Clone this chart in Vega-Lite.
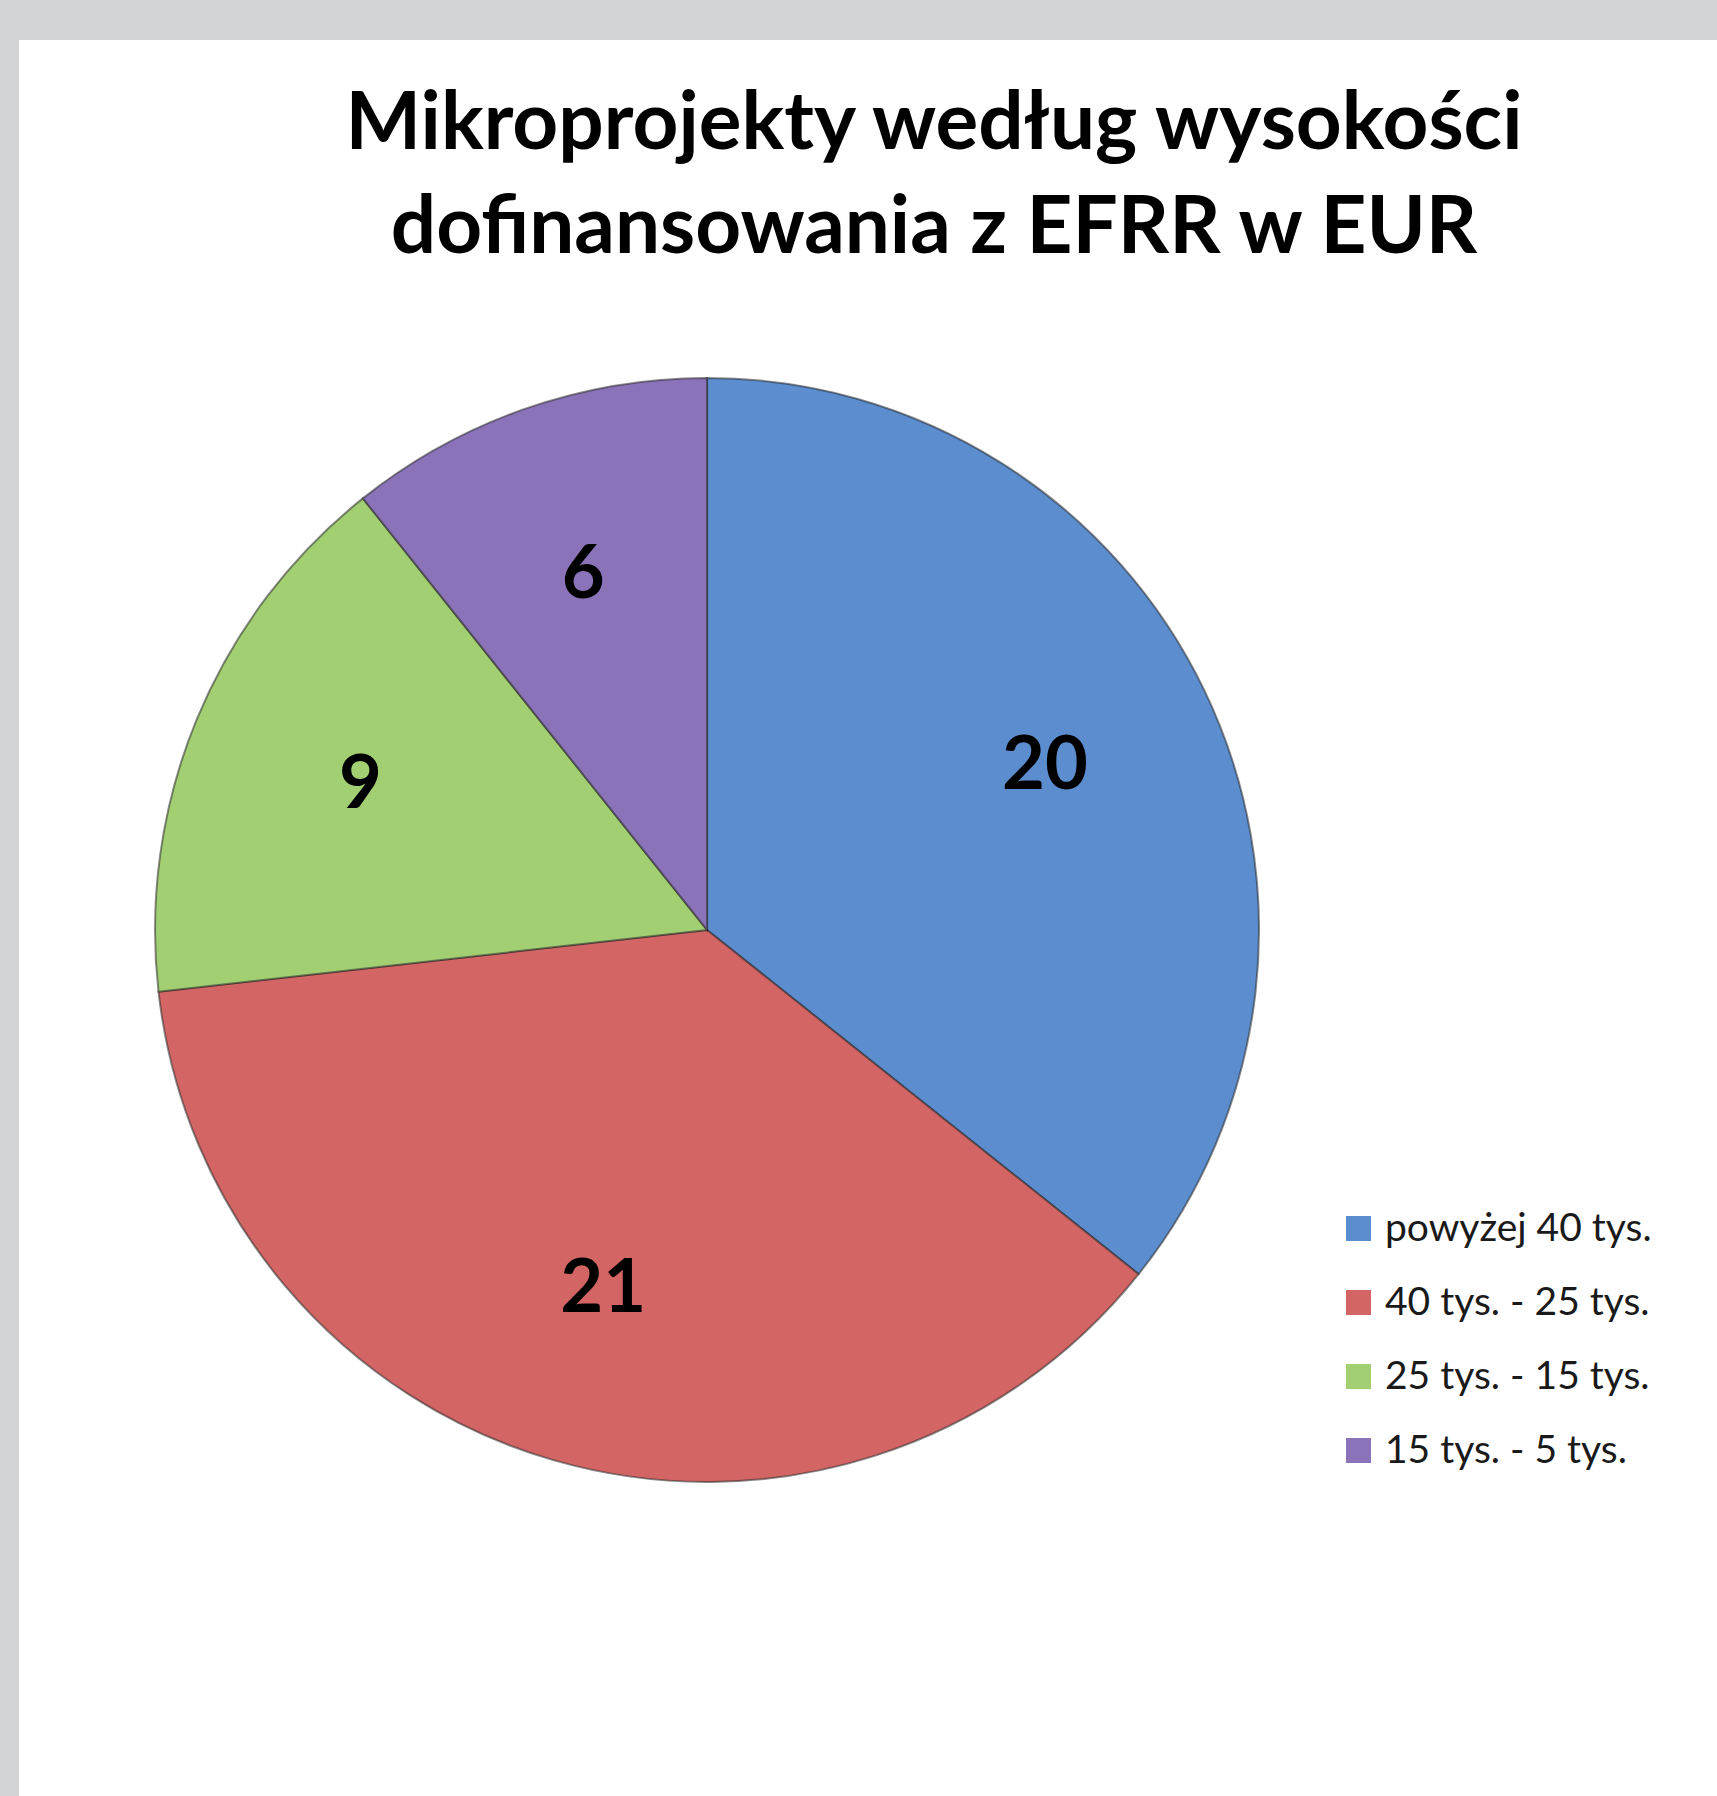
{
  "$schema": "https://vega.github.io/schema/vega-lite/v6.json",
  "width": 1698,
  "height": 1756,
  "autosize": {"type": "none"},
  "padding": {"left": 19, "top": 40, "right": 0, "bottom": 0},
  "background": "#d3d4d6",
  "config": {"view": {"fill": "white", "stroke": null}},
  "title": {
    "text": ["Mikroprojekty według wysokości", "dofinansowania z EFRR w EUR"],
    "font": "Lato",
    "fontSize": 80,
    "fontWeight": "bold",
    "color": "#000000",
    "lineHeight": 104,
    "baseline": "alphabetic",
    "offset": -293,
    "dx": 66,
    "anchor": "middle",
    "frame": "group"
  },
  "data": {
    "values": [
      {"kategoria": "powyżej 40 tys.", "liczba": 20, "kolejnosc": 1},
      {"kategoria": "40 tys. - 25 tys.", "liczba": 21, "kolejnosc": 2},
      {"kategoria": "25 tys. - 15 tys.", "liczba": 9, "kolejnosc": 3},
      {"kategoria": "15 tys. - 5 tys.", "liczba": 6, "kolejnosc": 4}
    ]
  },
  "encoding": {
    "theta": {"field": "liczba", "type": "quantitative", "stack": true},
    "order": {"field": "kolejnosc", "type": "quantitative"},
    "x": {"datum": 0.4052, "type": "quantitative", "scale": {"domain": [0, 1], "nice": false, "zero": false}, "axis": null},
    "y": {"datum": 0.4932, "type": "quantitative", "scale": {"domain": [0, 1], "nice": false, "zero": false}, "axis": null}
  },
  "layer": [
    {
      "mark": {"type": "arc", "radius": 552, "stroke": "#2a2a2a", "strokeWidth": 2, "strokeOpacity": 0.55},
      "encoding": {
        "color": {
          "field": "kategoria",
          "type": "nominal",
          "sort": null,
          "scale": {
            "domain": ["powyżej 40 tys.", "40 tys. - 25 tys.", "25 tys. - 15 tys.", "15 tys. - 5 tys."],
            "range": ["#5b8dcf", "#d46565", "#a3cf73", "#8b73b9"]
          },
          "legend": {
            "title": null,
            "orient": "none",
            "legendX": 1320,
            "legendY": 1169,
            "symbolType": "square",
            "symbolSize": 625,
            "symbolStrokeWidth": 0,
            "labelFont": "Lato",
            "labelFontSize": 39,
            "labelColor": "#1a1a1a",
            "labelOffset": 7,
            "rowPadding": 34,
            "labelLimit": 0
          }
        }
      }
    },
    {
      "mark": {"type": "text", "radius": 375, "font": "Lato", "fontSize": 74, "fontWeight": "bold", "color": "#000000"},
      "encoding": {"text": {"field": "liczba", "type": "quantitative"}}
    }
  ]
}
